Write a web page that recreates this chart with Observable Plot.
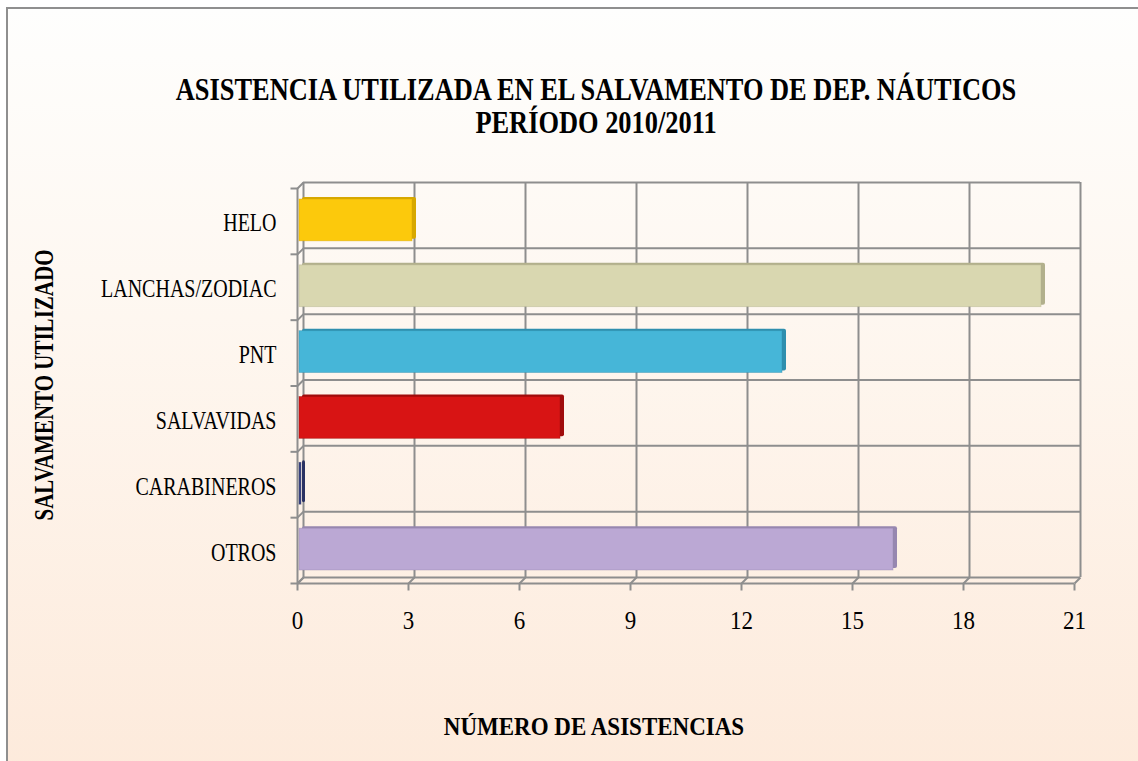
<!DOCTYPE html>
<html>
<head>
<meta charset="utf-8">
<script src="https://cdn.jsdelivr.net/npm/d3@7"></script>
<script src="https://cdn.jsdelivr.net/npm/@observablehq/plot@0.6"></script>
<style>
  html, body { margin: 0; padding: 0; background: #ffffff; }
  #wrap { position: relative; width: 1138px; height: 761px; overflow: hidden; font-family: "Liberation Serif", "DejaVu Serif", serif; }
  #frame { position: absolute; left: 6px; top: 7px; width: 1150px; height: 770px; border: 2.5px solid #8f8f8f;
           background: linear-gradient(to bottom, #fefefd 0%, #fef7f0 40%, #fdeadb 100%); }
  #title { position: absolute; left: 0; width: 1192px; top: 79px; text-align: center; font-weight: bold; font-size: 26.4px; line-height: 27px; color: #000;
           transform: scaleY(1.22); transform-origin: 50% 50%; }
  #xtitle { position: absolute; left: 0; width: 1188px; top: 714px; text-align: center; font-weight: bold; font-size: 23px; color: #000;
            transform: scaleY(1.12); }
  #ytitle { position: absolute; left: 45px; top: 385px; transform: translate(-50%, -50%) rotate(-90deg) scaleY(1.3); white-space: nowrap; font-weight: bold; font-size: 21px; color: #000; }
  #chart { position: absolute; left: 0; top: 0; }
</style>
</head>
<body>
<div id="wrap">
  <div id="frame"></div>
  <div id="title">ASISTENCIA UTILIZADA EN EL SALVAMENTO DE DEP. NÁUTICOS<br>PERÍODO 2010/2011</div>
  <div id="ytitle">SALVAMENTO UTILIZADO</div>
  <div id="xtitle">NÚMERO DE ASISTENCIAS</div>
  <div id="chart"></div>
</div>
<script>
// Data (top to bottom as shown)
const categories = ["HELO", "LANCHAS/ZODIAC", "PNT", "SALVAVIDAS", "CARABINEROS", "OTROS"];
const values = [3, 20, 13, 7, 0, 16];
const faceColors = ["#fcc90c", "#d9d7b0", "#46b6d8", "#d81414", "#3b4785", "#bba8d4"];
const sideColors = ["#d7a800", "#b2b08c", "#2f8fae", "#a00c0c", "#2a3263", "#9787b0"];
const xTicks = [0, 3, 6, 9, 12, 15, 18, 21];

const n = categories.length;
const rows = categories.map((c, i) => ({
  cat: c, value: values[i], pos: n - 1 - i, face: faceColors[i], side: sideColors[i]
}));
const bounds = d3.range(n + 1);

const W = 1138, H = 761;
const mL = 297, mR = 64, mT = 188, mB = 178;
const pxX = (W - mL - mR) / 21;       // pixels per x unit
const pxY = (H - mT - mB) / n;        // pixels per y unit
const depth = 6;                      // 3D depth, pixels
const dX = depth / pxX, dY = depth / pxY;
const grid = "#8e8e8e";

const chart = Plot.plot({
  width: W, height: H,
  marginLeft: mL, marginRight: mR, marginTop: mT, marginBottom: mB,
  style: { background: "transparent", overflow: "visible" },
  x: { domain: [0, 21], axis: null },
  y: { domain: [0, n], axis: null },
  marks: [
    // back wall
    Plot.ruleX(xTicks, { y1: 0, y2: n, dx: depth, dy: -depth, stroke: grid, strokeWidth: 2 }),
    Plot.ruleY(bounds, { x1: 0, x2: 21, dx: depth, dy: -depth, stroke: grid, strokeWidth: 2 }),
    // left wall and floor front edges
    Plot.ruleX([0], { y1: 0, y2: n, stroke: grid, strokeWidth: 2 }),
    Plot.ruleY([0], { x1: 0, x2: 21, stroke: grid, strokeWidth: 2 }),
    Plot.link(bounds, { x1: 0, y1: d => d, x2: dX, y2: d => d + dY, stroke: grid, strokeWidth: 2 }),
    Plot.link(xTicks, { x1: d => d, y1: 0, x2: d => d + dX, y2: dY, stroke: grid, strokeWidth: 2 }),
    // ticks
    Plot.link(bounds, { x1: 0, x2: -7 / pxX, y1: d => d, y2: d => d, stroke: grid, strokeWidth: 2 }),
    Plot.link(xTicks, { x1: d => d, x2: d => d, y1: 0, y2: -7 / pxY, stroke: grid, strokeWidth: 2 }),
    // bars: side/depth then face
    Plot.rect(rows, { x1: 0, x2: "value", y1: "pos", y2: d => d.pos + 1, insetTop: 12, insetBottom: 12, insetRight: -3,
      dx: 5, dy: -3, fill: "side", rx: 2 }),
    Plot.rect(rows, { x1: 0, x2: "value", y1: "pos", y2: d => d.pos + 1, insetTop: 13, insetBottom: 11, insetRight: -2,
      dx: 2, dy: -2, fill: "face", stroke: "side", strokeWidth: 0.8, strokeOpacity: 0.5 }),
    // labels
    Plot.text(rows, { x: 0, y: d => d.pos + 0.5, text: "cat", dx: -21, dy: 2, textAnchor: "end",
      fontSize: 20, fontFamily: "Liberation Serif", fill: "#000" }),
    Plot.text(xTicks, { x: d => d, y: 0, text: d => String(d), dy: 38,
      fontSize: 23, fontFamily: "Liberation Serif", fill: "#000" })
  ]
});
// vertical stretch of label glyphs to match the reference's tall serif type
d3.select(chart).selectAll("text").each(function () {
  const t = this.getAttribute("transform");
  if (!t) return;
  const s = categories.includes(this.textContent) ? 1.25 : 1.08;
  this.setAttribute("transform", t + ` scale(1,${s})`);
});
document.getElementById("chart").appendChild(chart);
</script>
</body>
</html>
